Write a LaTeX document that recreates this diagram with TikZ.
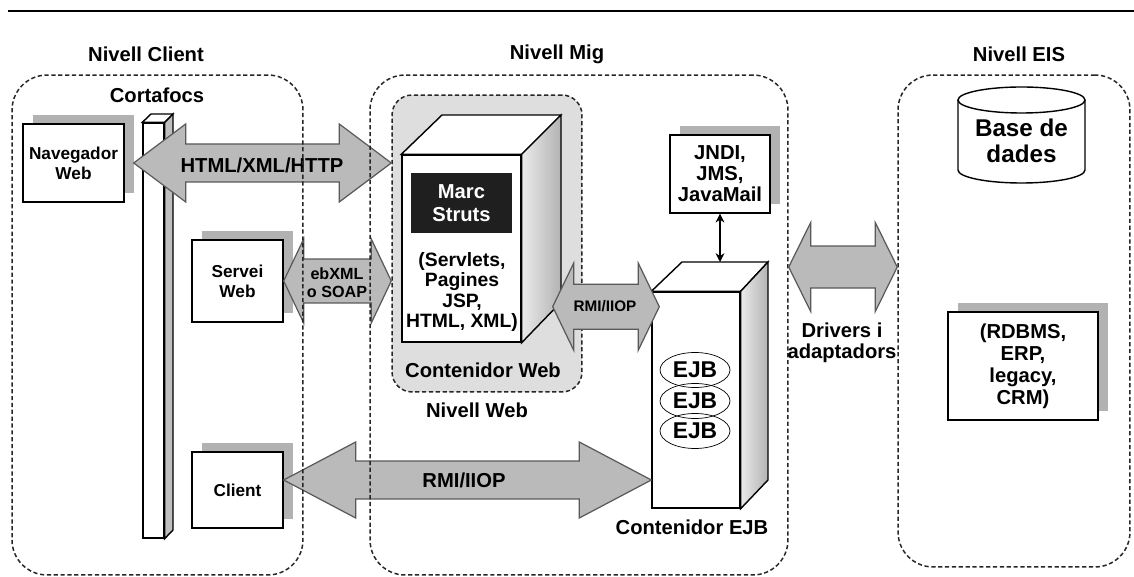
\documentclass[tikz,border=0pt]{standalone}
\usepackage{fontspec}
\setmainfont{Liberation Sans}
\usetikzlibrary{shadows,calc,arrows.meta,shapes.geometric}

\newcommand{\fatlink}[5]{%
  \draw[fatarrow] let \p1=(#1), \p2=(#2) in
    (\x1,\y1) -- (\x1+#5,\y1+#4) -- (\x1+#5,\y1+#3) -- (\x2-#5,\y1+#3)
    -- (\x2-#5,\y1+#4) -- (\x2,\y1) -- (\x2-#5,\y1-#4) -- (\x2-#5,\y1-#3)
    -- (\x1+#5,\y1-#3) -- (\x1+#5,\y1-#4) -- cycle;}

\begin{document}
\begin{tikzpicture}[x=0.02cm, y=-0.02cm,
  lbl/.style={font=\fontsize{11.5}{13}\selectfont\bfseries, align=center, inner sep=0pt},
  boxtxt/.style={font=\fontsize{9.8}{11.5}\selectfont\bfseries},
  region/.style={draw=black!85, dash pattern=on 2.4pt off 1.5pt, line width=0.85pt, rounded corners=0.7cm, inner sep=0pt},
  shadowbox/.style={draw, fill=white, line width=0.8pt, align=center, inner sep=0pt,
    drop shadow={shadow xshift=0.2cm, shadow yshift=0.18cm, fill=black!30, opacity=1}},
  face/.style={draw, line width=0.8pt, fill=white},
  fatarrow/.style={draw=black!65, fill=black!27, line width=0.7pt, line join=miter},
  ejbnode/.style={draw, ellipse, minimum width=1.4cm, minimum height=0.7cm, inner sep=0pt,
    font=\fontsize{13}{13}\selectfont\bfseries}]
  \useasboundingbox (0,0) rectangle (1134,577);
  \draw[line width=1.2pt] (8,11) -- (1134,11);

  \node[lbl] (tclient) at (146,54) {Nivell Client};
  \node[lbl] (tmig) at (557,54) {Nivell Mig};
  \node[lbl] (teis) at (1019,54) {Nivell EIS};

  \node[region, fill=black!13, rounded corners=0.4cm, minimum width=3.8cm, minimum height=5.94cm] (webcont) at (487,243.5) {};
  \node[face, minimum width=2.38cm, minimum height=3.74cm, inner sep=0pt] (ws) at (461.5,248.5) {};
  \draw[face] (ws.north west) -- (442,115) -- (561,115) -- (ws.north east) -- cycle;
  \draw[face, left color=black!8, right color=black!30] (ws.north east) -- (561,115) -- (561,302) -- (ws.south east) -- cycle;
  \node[lbl, fill=black!88, text=white, minimum width=2.02cm, minimum height=1.2cm] (struts) at (461.5,203) {Marc\\Struts};
  \node[lbl, font=\fontsize{11}{11.4}\selectfont\bfseries] (svl) at (462,292) {(Servlets,\\Pagines\\JSP,\\HTML, XML)};
  \node[lbl] (twebc) at (483,370) {Contenidor Web};
  \node[lbl] (tweb) at (477,410) {Nivell Web};

  \node[face, minimum width=0.42cm, minimum height=8.3cm, inner sep=0pt] (fw) at (153.5,330.5) {};
  \draw[face] (fw.north west) -- (151,114) -- (173,114) -- (fw.north east) -- cycle;
  \draw[face, fill=black!25] (fw.north east) -- (173,114) -- (173,530) -- (fw.south east) -- cycle;
  \node[lbl] (tfw) at (157,95) {Cortafocs};

  \node[shadowbox, boxtxt, minimum width=2.02cm, minimum height=1.56cm] (nav) at (73.5,163) {Navegador\\Web};
  \node[shadowbox, boxtxt, minimum width=1.82cm, minimum height=1.64cm] (srv) at (237.5,281) {Servei\\Web};
  \node[shadowbox, boxtxt, minimum width=1.82cm, minimum height=1.52cm] (cli) at (237.5,490) {Client};
  \node[shadowbox, lbl, font=\fontsize{11.5}{12}\selectfont\bfseries, minimum width=2cm, minimum height=1.56cm] (jndi) at (720,174) {JNDI,\\JMS,\\JavaMail};
  \node[shadowbox, lbl, font=\fontsize{11.5}{12.5}\selectfont\bfseries, minimum width=3cm, minimum height=2.16cm] (rdb) at (1023,366) {(RDBMS,\\ERP,\\legacy,\\CRM)};

  \node[face, minimum width=1.76cm, minimum height=4.32cm, inner sep=0pt] (ejb) at (696,400) {};
  \draw[face] (ejb.north west) -- (682,262) -- (768,262) -- (ejb.north east) -- cycle;
  \draw[face, left color=black!8, right color=black!30] (ejb.north east) -- (768,262) -- (768,480) -- (ejb.south east) -- cycle;
  \node[ejbnode] (ejb1) at (695,370) {EJB};
  \node[ejbnode] (ejb2) at (695,401) {EJB};
  \node[ejbnode] (ejb3) at (695,431) {EJB};
  \node[lbl] (tejb) at (692,527) {Contenidor EJB};

  \coordinate (ejbtop) at (720,262);
  \draw[{Stealth[length=5pt,width=5pt]}-{Stealth[length=5pt,width=5pt]}, line width=0.8pt] (jndi.south) -- (ejbtop);

  \draw[face] (958,100) -- (958,170) arc[start angle=180, end angle=0, x radius=63.5, y radius=13] -- (1085,100);
  \draw[face] (1021.5,100) ellipse[x radius=63.5, y radius=13];
  \node[lbl, font=\fontsize{13.8}{14.5}\selectfont\bfseries] (db) at (1021.5,141) {Base de\\dades};

  \fatlink{[xshift=0.18cm]nav.east}{webcont.west}{0.38cm}{0.78cm}{1.04cm}
  \node[lbl] (thtml) at (262,165) {HTML/XML/HTTP};
  \fatlink{srv.east}{webcont.west}{0.44cm}{0.84cm}{0.40cm}
  \node[lbl, font=\fontsize{9.2}{10}\selectfont\bfseries] (tsoap) at (337,283) {ebXML\\o SOAP};
  \fatlink{[xshift=0.62cm,yshift=0.72cm]ws.south east}{[xshift=0.16cm]ejb.west}{0.45cm}{0.87cm}{0.42cm}
  \node[lbl, font=\fontsize{8.7}{9}\selectfont\bfseries] (trmi1) at (605,306) {RMI/IIOP};
  \fatlink{[yshift=0.2cm]cli.east}{ejb.west}{0.38cm}{0.76cm}{1.44cm}
  \node[lbl] (trmi2) at (464,480) {RMI/IIOP};

  \node[region, minimum width=5.82cm, minimum height=10cm] (client) at (157.5,325) {};
  \node[region, minimum width=8.36cm, minimum height=10cm] (mig) at (579,325) {};
  \node[region, minimum width=4.64cm, minimum height=9.84cm] (eis) at (1014,321) {};

  \fatlink{[yshift=1.16cm]mig.east}{eis.west}{0.42cm}{0.89cm}{0.44cm}
  \node[lbl, font=\fontsize{11.5}{12}\selectfont\bfseries] (tdrv) at (842,343) {Drivers i\\adaptadors};
\end{tikzpicture}
\end{document}
